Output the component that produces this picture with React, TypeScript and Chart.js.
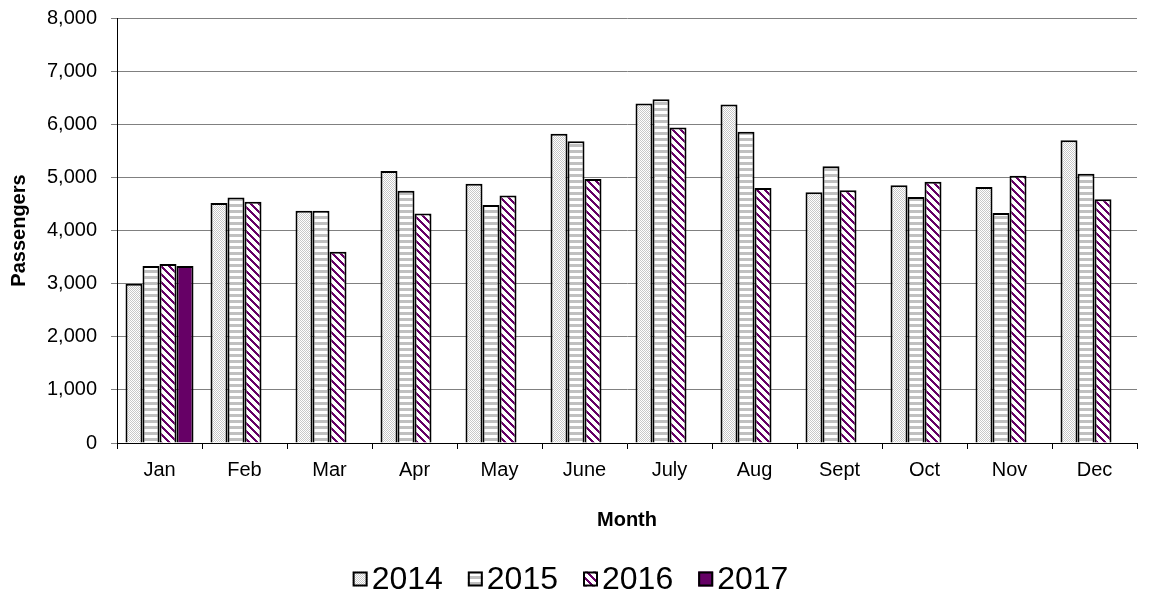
import React, { useEffect, useRef } from "react";
import { Chart, registerables } from "chart.js";

Chart.register(...registerables);

const months = ["Jan", "Feb", "Mar", "Apr", "May", "June", "July", "Aug", "Sept", "Oct", "Nov", "Dec"];
const years = ["2014", "2015", "2016", "2017"];
const values2014 = [3000, 4520, 4370, 5120, 4880, 5820, 6390, 6370, 4720, 4850, 4820, 5700];
const values2015 = [3330, 4620, 4370, 4750, 4480, 5680, 6470, 5860, 5210, 4630, 4330, 5070];
const values2016 = [3370, 4540, 3600, 4320, 4660, 4970, 5940, 4800, 4760, 4920, 5030, 4590];
const values2017 = [3330, null, null, null, null, null, null, null, null, null, null, null];
const yTicks = [0, 1000, 2000, 3000, 4000, 5000, 6000, 7000, 8000];

const PURPLE = "#660066";
const FONT = "'Liberation Sans', Arial, sans-serif";

function makePattern(kind: string): CanvasPattern | string {
  const c = document.createElement("canvas");
  const ctx = c.getContext("2d")!;
  if (kind === "dots") {
    c.width = 2; c.height = 2;
    ctx.fillStyle = "#ffffff"; ctx.fillRect(0, 0, 2, 2);
    ctx.fillStyle = "#c8c8c8"; ctx.fillRect(0, 0, 1, 1); ctx.fillRect(1, 1, 1, 1);
  } else if (kind === "hstripe") {
    c.width = 4; c.height = 6;
    ctx.fillStyle = "#ffffff"; ctx.fillRect(0, 0, 4, 6);
    ctx.fillStyle = "#c0c0c0"; ctx.fillRect(0, 0, 4, 3);
  } else if (kind === "diag") {
    c.width = 8; c.height = 8;
    ctx.fillStyle = "#ffffff"; ctx.fillRect(0, 0, 8, 8);
    ctx.fillStyle = PURPLE;
    for (let x = 0; x < 8; x++) {
      for (let y = 0; y < 8; y++) {
        if ((((y - x) % 8) + 8) % 8 < 3) ctx.fillRect(x, y, 1, 1);
      }
    }
  }
  const p = ctx.createPattern(c, "repeat");
  return p || "#cccccc";
}

const legendPlugin = {
  id: "customLegend",
  afterDraw(chart: any) {
    const ctx = chart.ctx as CanvasRenderingContext2D;
    ctx.save();
    ctx.font = `32px ${FONT}`;
    const box = 15;
    const gap = 4;
    const space = 25;
    const items = chart.data.datasets.map((ds: any) => ({
      text: ds.label as string,
      fill: ds.backgroundColor,
      w: ctx.measureText(ds.label).width,
    }));
    const total = items.reduce((s: number, it: any) => s + box + gap + it.w, 0) + space * (items.length - 1);
    let x = chart.width / 2 - 6 - total / 2;
    const cy = chart.height - 15;
    ctx.textBaseline = "middle";
    ctx.textAlign = "left";
    for (const it of items) {
      ctx.fillStyle = it.fill;
      ctx.fillRect(x, cy - box / 2, box, box);
      ctx.lineWidth = 2;
      ctx.strokeStyle = "#000";
      ctx.strokeRect(x + 1, cy - box / 2 + 1, box - 2, box - 2);
      ctx.fillStyle = "#000";
      ctx.fillText(it.text, x + box + gap, cy + 1);
      x += box + gap + it.w + space;
    }
    ctx.restore();
  },
};

export default function App() {
  const ref = useRef<HTMLCanvasElement | null>(null);
  useEffect(() => {
    if (!ref.current) return;
    const chart = new Chart(ref.current, {
      type: "bar",
      data: {
        labels: months,
        datasets: [
          { label: years[0], data: values2014, backgroundColor: makePattern("dots") as any },
          { label: years[1], data: values2015, backgroundColor: makePattern("hstripe") as any },
          { label: years[2], data: values2016, backgroundColor: makePattern("diag") as any },
          { label: years[3], data: values2017 as any, backgroundColor: PURPLE },
        ].map((d) => ({
          ...d,
          borderColor: "#000000",
          borderWidth: 2,
          categoryPercentage: 0.8,
          barPercentage: 1.0,
        })),
      },
      plugins: [legendPlugin],
      options: {
        animation: false,
        responsive: false,
        maintainAspectRatio: false,
        layout: { padding: { left: 0, right: 16, top: 0, bottom: 62 } },
        plugins: {
          tooltip: { enabled: false },
          legend: { display: false },
        },
        scales: {
          x: {
            afterFit: (scale: any) => {
              scale.height = 89;
            },
            grid: { display: true, drawOnChartArea: false, drawTicks: true, tickLength: 6, color: "#000", offset: true },
            border: { display: true, color: "#000", width: 1 },
            ticks: { color: "#000", font: { family: FONT, size: 20 }, padding: 9 },
            title: {
              display: true,
              text: "Month",
              color: "#000",
              font: { family: FONT, size: 20, weight: "bold" },
              padding: { top: 0, bottom: 0 },
            },
          },
          y: {
            min: 0,
            max: 8000,
            afterBuildTicks: (scale: any) => {
              scale.ticks = yTicks.map((v) => ({ value: v }));
            },
            afterFit: (scale: any) => {
              scale.width = 117;
              scale.paddingTop = 18;
              scale.paddingBottom = 0;
            },
            grid: { color: "#808080", drawTicks: true, tickLength: 6, lineWidth: 1 },
            border: { display: true, color: "#000", width: 1 },
            ticks: {
              color: "#000",
              font: { family: FONT, size: 20 },
              padding: 14,
              callback: (v: any) => Number(v).toLocaleString("en-US"),
            },
            title: {
              display: true,
              text: "Passengers",
              color: "#000",
              font: { family: FONT, size: 20, weight: "bold" },
              padding: { top: 7, bottom: 0 },
            },
          },
        },
      },
    });
    return () => chart.destroy();
  }, []);
  return (
    <div style={{ position: "fixed", left: 0, top: 0, width: 1153, height: 594, background: "#fff" }}>
      <canvas ref={ref} width={1153} height={594} style={{ display: "block", width: 1153, height: 594 }} />
    </div>
  );
}
